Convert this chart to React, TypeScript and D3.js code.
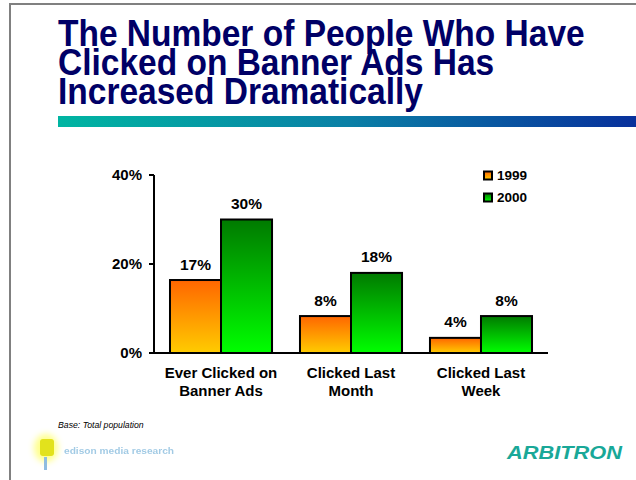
import React from "react";
import * as d3 from "d3";

const categories = [["Ever Clicked on", "Banner Ads"], ["Clicked Last", "Month"], ["Clicked Last", "Week"]];
const seriesNames = ["1999", "2000"];
const values1999 = [16.4, 8.3, 3.4];
const values2000 = [30, 18, 8.3];
const labels1999 = ["17%", "8%", "4%"];
const labels2000 = ["30%", "18%", "8%"];
const yTicks = [0, 20, 40];
const titleLines = ["The Number of People Who Have", "Clicked on Banner Ads Has", "Increased Dramatically"];

const W = 636, H = 480;
const FONT = "'Liberation Sans', Arial, Helvetica, sans-serif";

export default function App() {
  const y = d3.scaleLinear().domain([0, 40]).range([353, 175]);
  const x0 = d3.scaleBand<number>().domain([0, 1, 2]).range([154, 548]).paddingInner(0.215).paddingOuter(0.123);
  const x1 = d3.scaleBand<number>().domain([0, 1]).range([0, x0.bandwidth()]);
  const series = [
    { name: seriesNames[0], vals: values1999, labels: labels1999, grad: "g1999" },
    { name: seriesNames[1], vals: values2000, labels: labels2000, grad: "g2000" },
  ];
  return (
    <svg width={W} height={H} style={{ position: "absolute", left: 0, top: 0, background: "#fff" }} fontFamily={FONT}>
      <defs>
        <linearGradient id="rule" x1="0" x2="1" y1="0" y2="0">
          <stop offset="0" stopColor="#00b5a2" />
          <stop offset="0.5" stopColor="#0a80a6" />
          <stop offset="1" stopColor="#08309c" />
        </linearGradient>
        <linearGradient id="g1999" x1="0" x2="0" y1="0" y2="1">
          <stop offset="0" stopColor="#ff6600" />
          <stop offset="1" stopColor="#ffcc00" />
        </linearGradient>
        <linearGradient id="g2000" x1="0" x2="0" y1="0" y2="1">
          <stop offset="0" stopColor="#007a00" />
          <stop offset="1" stopColor="#00ff00" />
        </linearGradient>
        <filter id="blur1" x="-50%" y="-50%" width="200%" height="200%">
          <feGaussianBlur stdDeviation="3" />
        </filter>
        <filter id="blur2" x="-10%" y="-50%" width="120%" height="200%">
          <feGaussianBlur stdDeviation="0.7" />
        </filter>
      </defs>
      <rect x={0} y={0} width={W} height={H} fill="#fff" />
      {/* frame */}
      <line x1={10} x2={10} y1={4} y2={H} stroke="#808080" strokeWidth={2} />
      <line x1={9} x2={W} y1={4} y2={4} stroke="#808080" strokeWidth={2} />
      {/* title */}
      {titleLines.map((t, i) => (
        <text key={i} transform={`translate(58,${45.8 + i * 29.2}) scale(1,1.08)`} fontSize={33.5} fontWeight="bold" fill="#000066">{t}</text>
      ))}
      <rect x={58} y={116} width={W - 58} height={11} fill="url(#rule)" />
      {/* axes */}
      <line x1={154} x2={154} y1={y(40)} y2={y(0) + 1} stroke="#000" strokeWidth={2} />
      <line x1={153} x2={548} y1={y(0)} y2={y(0)} stroke="#000" strokeWidth={2} />
      {yTicks.map((t) => (
        <g key={t}>
          <line x1={149} x2={154} y1={y(t)} y2={y(t)} stroke="#000" strokeWidth={2} />
          <text x={142} y={y(t) + 5} textAnchor="end" fontSize={15} fontWeight="bold">{t}%</text>
        </g>
      ))}
      {/* bars */}
      {categories.map((c, ci) => (
        <g key={ci} transform={`translate(${x0(ci)},0)`}>
          {series.map((s, si) => {
            const bx = x1(si)!;
            const bw = x1.bandwidth();
            const top = y(s.vals[ci]);
            return (
              <g key={si}>
                <rect x={bx} y={top} width={bw} height={y(0) - top} fill={`url(#${s.grad})`} stroke="#000" strokeWidth={2} />
                <text x={bx + bw / 2} y={top - 10.5} textAnchor="middle" fontSize={15.5} fontWeight="bold">{s.labels[ci]}</text>
              </g>
            );
          })}
          {c.map((line, li) => (
            <text key={li} x={x0.bandwidth() / 2} y={378 + li * 18} textAnchor="middle" fontSize={15} fontWeight="bold">{line}</text>
          ))}
        </g>
      ))}
      {/* legend */}
      {series.map((s, si) => (
        <g key={si}>
          <rect x={484} y={171.5 + si * 22} width={8} height={8} fill={`url(#${s.grad})`} stroke="#000" strokeWidth={2} />
          <text x={497} y={180 + si * 22} fontSize={13.5} fontWeight="bold">{s.name}</text>
        </g>
      ))}
      {/* footer */}
      <text x={58} y={428} fontSize={8.7} fontStyle="italic">Base: Total population</text>
      <g>
        <ellipse cx={46} cy={448} rx={12} ry={14} fill="#ffff80" filter="url(#blur1)" opacity={0.9} />
        <rect x={40} y={439} width={14} height={17} rx={3} fill="#e2e21a" filter="url(#blur2)" />
        <rect x={44} y={457} width={3} height={13} fill="#8fbde0" filter="url(#blur2)" />
        <text x={64} y={454} fontSize={9} fontWeight="bold" fill="#7bb5da" opacity={0.7} filter="url(#blur2)" textLength={110} lengthAdjust="spacingAndGlyphs">edison media research</text>
      </g>
      <text x={507} y={459} fontSize={19} fontWeight="bold" fontStyle="italic" fill="#19a898" textLength={115} lengthAdjust="spacingAndGlyphs">ARBITRON</text>
    </svg>
  );
}
